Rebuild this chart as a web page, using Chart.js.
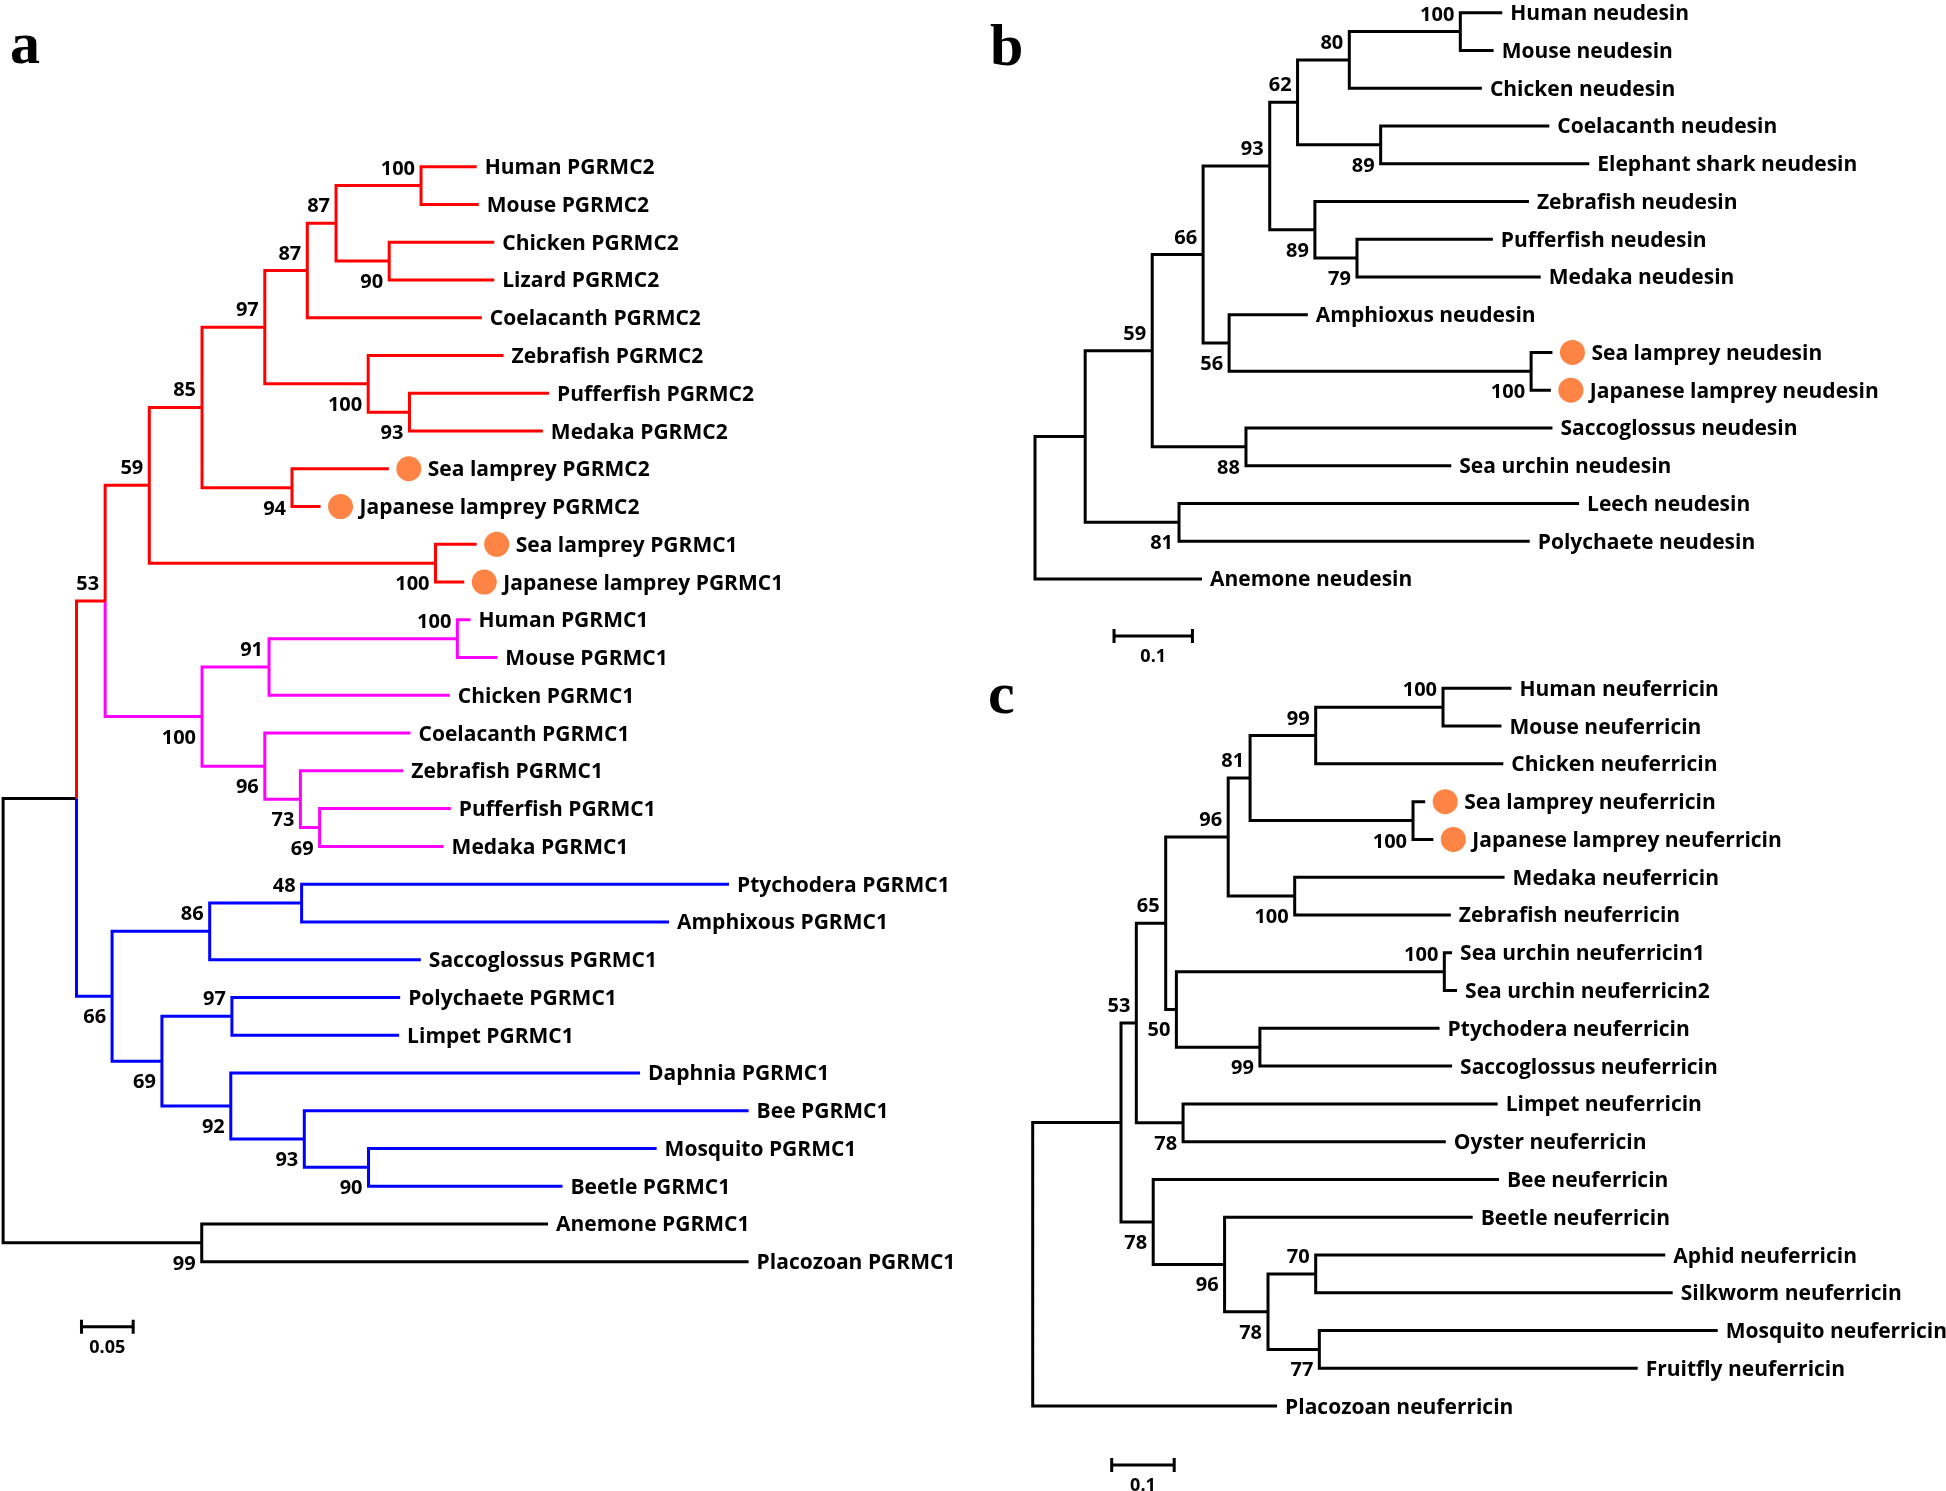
<!DOCTYPE html>
<html>
<head>
<meta charset="utf-8">
<script src="https://cdn.jsdelivr.net/npm/chart.js@4.4.0/dist/chart.umd.min.js"></script>
<style>
 html, body { margin: 0; padding: 0; background: #fff; }
 body { width: 1946px; height: 1491px; position: relative; overflow: hidden; }
 canvas { position: absolute; }
</style>
</head>
<body>
<canvas id="treeA"></canvas>
<canvas id="treeB"></canvas>
<canvas id="treeC"></canvas>
<script>
// ---- panel a : PGRMC1 / PGRMC2 ----
const aLeaves = ["Human PGRMC2", "Mouse PGRMC2", "Chicken PGRMC2", "Lizard PGRMC2", "Coelacanth PGRMC2",
 "Zebrafish PGRMC2", "Pufferfish PGRMC2", "Medaka PGRMC2", "Sea lamprey PGRMC2", "Japanese lamprey PGRMC2",
 "Sea lamprey PGRMC1", "Japanese lamprey PGRMC1", "Human PGRMC1", "Mouse PGRMC1", "Chicken PGRMC1",
 "Coelacanth PGRMC1", "Zebrafish PGRMC1", "Pufferfish PGRMC1", "Medaka PGRMC1", "Ptychodera PGRMC1",
 "Amphixous PGRMC1", "Saccoglossus PGRMC1", "Polychaete PGRMC1", "Limpet PGRMC1", "Daphnia PGRMC1",
 "Bee PGRMC1", "Mosquito PGRMC1", "Beetle PGRMC1", "Anemone PGRMC1", "Placozoan PGRMC1"];
// tip depth from the root (substitutions per site)
const aTips = [0.458, 0.460, 0.475, 0.475, 0.463, 0.484, 0.528, 0.522, 0.373, 0.307,
 0.458, 0.446, 0.452, 0.478, 0.432, 0.394, 0.387, 0.433, 0.426, 0.702,
 0.644, 0.404, 0.384, 0.383, 0.616, 0.721, 0.632, 0.541, 0.527, 0.721];
// internal nodes in post order, "L" = leaf, "N" = node
const aKids = [["L0", "L1"], ["L2", "L3"], ["N0", "N1"], ["N2", "L4"], ["L6", "L7"], ["L5", "N4"],
 ["N3", "N5"], ["L8", "L9"], ["N6", "N7"], ["L10", "L11"], ["N8", "N9"], ["L12", "L13"],
 ["N11", "L14"], ["L17", "L18"], ["L16", "N13"], ["L15", "N14"], ["N12", "N15"], ["N10", "N16"],
 ["L19", "L20"], ["N18", "L21"], ["L22", "L23"], ["L26", "L27"], ["L25", "N21"], ["L24", "N22"],
 ["N20", "N23"], ["N19", "N24"], ["N17", "N25"], ["L28", "L29"], ["N26", "N27"]];
const aNodeX = [0.4042, 0.3734, 0.3220, 0.2942, 0.3930, 0.3531, 0.2531, 0.2794, 0.1924, 0.4182,
 0.1414, 0.4393, 0.2572, 0.3061, 0.2875, 0.2531, 0.1924, 0.0987, 0.2887, 0.1998,
 0.2213, 0.3534, 0.2913, 0.2202, 0.1536, 0.1054, 0.0710, 0.1921, 0];
const aBoot = [100, 90, 87, 87, 93, 100, 97, 94, 85, 100, 59, 100, 91, 69, 73, 96, 100, 53,
 48, 86, 97, 90, 93, 92, 69, 66, null, 99, null];
const aBootBelow = [0, 1, 0, 0, 1, 1, 0, 1, 0, 1, 0, 0, 0, 1, 1, 1, 1, 0, 0, 0, 0, 1, 1, 1, 1, 1, 0, 1, 0];
const aLamprey = [8, 9, 10, 11];
const aClades = [["N17", "#ff0000"], ["N16", "#ff00ff"], ["N25", "#0000ff"]];
const aBar = 0.05;

// ---- panel b : neudesin ----
const bLeaves = ["Human neudesin", "Mouse neudesin", "Chicken neudesin", "Coelacanth neudesin",
 "Elephant shark neudesin", "Zebrafish neudesin", "Pufferfish neudesin", "Medaka neudesin",
 "Amphioxus neudesin", "Sea lamprey neudesin", "Japanese lamprey neudesin", "Saccoglossus neudesin",
 "Sea urchin neudesin", "Leech neudesin", "Polychaete neudesin", "Anemone neudesin"];
const bTips = [0.596, 0.585, 0.570, 0.656, 0.707, 0.630, 0.584, 0.645, 0.348, 0.660, 0.658, 0.660,
 0.531, 0.694, 0.631, 0.213];
const bKids = [["L0", "L1"], ["N0", "L2"], ["L3", "L4"], ["N1", "N2"], ["L6", "L7"], ["L5", "N4"],
 ["N3", "N5"], ["L9", "L10"], ["L8", "N7"], ["N6", "N8"], ["L11", "L12"], ["N9", "N10"],
 ["L13", "L14"], ["N11", "N12"], ["N13", "L15"]];
const bNodeX = [0.5425, 0.4009, 0.4409, 0.3349, 0.4107, 0.3570, 0.2994, 0.6328, 0.2476, 0.2144,
 0.2691, 0.1495, 0.1837, 0.0640, 0];
const bBoot = [100, 80, 89, 62, 79, 89, 93, 100, 56, 66, 88, 59, 81, null, null];
const bBootBelow = [0, 0, 1, 0, 1, 1, 0, 1, 1, 0, 1, 0, 1, 0, 0];
const bLamprey = [9, 10];
const bBar = 0.1;

// ---- panel c : neuferricin ----
const cLeaves = ["Human neuferricin", "Mouse neuferricin", "Chicken neuferricin", "Sea lamprey neuferricin",
 "Japanese lamprey neuferricin", "Medaka neuferricin", "Zebrafish neuferricin", "Sea urchin neuferricin1",
 "Sea urchin neuferricin2", "Ptychodera neuferricin", "Saccoglossus neuferricin", "Limpet neuferricin",
 "Oyster neuferricin", "Bee neuferricin", "Beetle neuferricin", "Aphid neuferricin",
 "Silkworm neuferricin", "Mosquito neuferricin", "Fruitfly neuferricin", "Placozoan neuferricin"];
const cTips = [0.766, 0.750, 0.753, 0.628, 0.641, 0.755, 0.669, 0.671, 0.679, 0.651, 0.671, 0.744,
 0.661, 0.746, 0.704, 1.012, 1.024, 1.096, 0.968, 0.391];
const cKids = [["L0", "L1"], ["N0", "L2"], ["L3", "L4"], ["N1", "N2"], ["L5", "L6"], ["N3", "N4"],
 ["L7", "L8"], ["L9", "L10"], ["N6", "N7"], ["N5", "N8"], ["L11", "L12"], ["N9", "N10"],
 ["L15", "L16"], ["L17", "L18"], ["N12", "N13"], ["L14", "N14"], ["L13", "N15"], ["N11", "N16"],
 ["N17", "L19"]];
const cNodeX = [0.6565, 0.4528, 0.6085, 0.3478, 0.4192, 0.3128, 0.6586, 0.3635, 0.2299, 0.2128,
 0.2406, 0.1658, 0.4528, 0.4586, 0.3765, 0.3070, 0.1928, 0.1413, 0];
const cBoot = [100, 99, 100, 81, 100, 96, 100, 99, 50, 65, 78, 53, 70, 77, 78, 96, 78, null, null];
const cBootBelow = [0, 0, 1, 0, 1, 0, 0, 1, 1, 0, 1, 0, 0, 1, 1, 1, 1, 0, 0];
const cLamprey = [3, 4];
const cBar = 0.1;

// page layout of each panel (pixels)
const layoutA = { left: 0, top: 0, w: 980, h: 1491, rootPx: 3.1, ppu: 1034, row0: 166.7, rowH: 37.76,
 letter: "a", letterX: 10, letterY: 63, barX: 0.0758, barRow: 30.72 };
const layoutB = { left: 980, top: 0, w: 966, h: 670, rootPx: 55, ppu: 784, row0: 12.7, rowH: 37.75,
 letter: "b", letterX: 10, letterY: 65, barX: 0.1008, barRow: 16.51 };
const layoutC = { left: 980, top: 670, w: 966, h: 821, rootPx: 52.7, ppu: 625, row0: 18.3, rowH: 37.78,
 letter: "c", letterX: 8, letterY: 43, barX: 0.1264, barRow: 20.56 };

const NAME_FONT = "bold 21px 'Open Sans', 'Noto Sans', sans-serif";
const BOOT_FONT = "bold 20px 'Open Sans', 'Noto Sans', sans-serif";
const BAR_FONT = "bold 18px 'Open Sans', 'Noto Sans', sans-serif";
const LAMPREY = "#fd8444";

function drawTree(id, L, leaves, tips, kids, nodeX, boot, below, lamprey, clades, barLen) {
 const cv = document.getElementById(id);
 cv.width = L.w;
 cv.height = L.h;
 cv.style.left = L.left + "px";
 cv.style.top = L.top + "px";

 // positions: leaves on rows, nodes half way between their two children
 const pos = {};
 leaves.forEach((n, i) => { pos["L" + i] = { x: tips[i], y: i }; });
 kids.forEach((k, j) => {
 pos["N" + j] = { x: nodeX[j], y: (pos[k[0]].y + pos[k[1]].y) / 2 };
 });

 // colour of the elbow leading into every node, top down
 const cladeCol = Object.fromEntries(clades);
 const col = {};
 col["N" + (kids.length - 1)] = "#000000";
 for (let j = kids.length - 1; j >= 0; j--) {
 kids[j].forEach(k => { col[k] = cladeCol[k] || col["N" + j]; });
 }

 const byCol = {};
 kids.forEach((k, j) => {
 const p = pos["N" + j];
 k.forEach(c => {
 const q = pos[c];
 const arr = byCol[col[c]] = byCol[col[c]] || [];
 arr.push({ x: p.x, y: p.y }, { x: p.x, y: q.y }, { x: q.x, y: q.y }, { x: q.x, y: null });
 });
 });

 const datasets = Object.keys(byCol).map(c => ({
 data: byCol[c], showLine: true, borderColor: c, borderWidth: 3, pointRadius: 0,
 borderJoinStyle: "miter", spanGaps: false, tension: 0
 }));

 // lamprey markers
 const dotOff = 20 / L.ppu;
 datasets.push({
 data: lamprey.map(i => ({ x: tips[i] + dotOff, y: i })),
 pointRadius: 12.5, pointBackgroundColor: LAMPREY, pointBorderWidth: 0, showLine: false
 });

 // scale bar
 const d = 7 / L.rowH, x0 = L.barX, x1 = L.barX + barLen, r = L.barRow;
 datasets.push({
 data: [{ x: x0, y: r }, { x: x1, y: r }, { x: x1, y: null },
 { x: x0, y: r - d }, { x: x0, y: r + d }, { x: x0, y: null },
 { x: x1, y: r - d }, { x: x1, y: r + d }],
 showLine: true, borderColor: "#000", borderWidth: 3, pointRadius: 0, spanGaps: false
 });

 const xMin = -L.rootPx / L.ppu;
 const yMin = -L.row0 / L.rowH;

 new Chart(cv, {
 type: "scatter",
 data: { datasets },
 options: {
 responsive: false,
 animation: false,
 events: [],
 layout: { padding: 0, autoPadding: false },
 scales: {
 x: { type: "linear", display: false, bounds: "data", min: xMin, max: xMin + L.w / L.ppu },
 y: { type: "linear", display: false, bounds: "data", reverse: true, min: yMin, max: yMin + L.h / L.rowH }
 },
 plugins: { legend: { display: false }, tooltip: { enabled: false } }
 },
 plugins: [{
 id: "treeText",
 afterDatasetsDraw(chart) {
 const ctx = chart.ctx, xs = chart.scales.x, ys = chart.scales.y;
 ctx.save();
 ctx.fillStyle = "#000";
 ctx.textBaseline = "alphabetic";

 ctx.font = NAME_FONT;
 ctx.textAlign = "left";
 leaves.forEach((n, i) => {
 const gap = lamprey.includes(i) ? 39 : 8;
 ctx.fillText(n, xs.getPixelForValue(tips[i]) + gap, ys.getPixelForValue(i) + 7.5);
 });

 ctx.font = BOOT_FONT;
 ctx.textAlign = "right";
 kids.forEach((k, j) => {
 if (boot[j] == null) return;
 const p = pos["N" + j];
 const cy = ys.getPixelForValue(p.y) + (below[j] ? 20 : -18);
 ctx.fillText(String(boot[j]), xs.getPixelForValue(p.x) - 6, cy + 7);
 });

 ctx.font = BAR_FONT;
 ctx.textAlign = "center";
 ctx.fillText(String(barLen), xs.getPixelForValue((x0 + x1) / 2), ys.getPixelForValue(r) + 26);

 ctx.font = "bold 60px 'Liberation Serif', 'Times New Roman', serif";
 ctx.textAlign = "left";
 ctx.fillText(L.letter, L.letterX, L.letterY);
 ctx.restore();
 }
 }]
 });
}

drawTree("treeA", layoutA, aLeaves, aTips, aKids, aNodeX, aBoot, aBootBelow, aLamprey, aClades, aBar);
drawTree("treeB", layoutB, bLeaves, bTips, bKids, bNodeX, bBoot, bBootBelow, bLamprey, [], bBar);
drawTree("treeC", layoutC, cLeaves, cTips, cKids, cNodeX, cBoot, cBootBelow, cLamprey, [], cBar);
</script>
</body>
</html>
